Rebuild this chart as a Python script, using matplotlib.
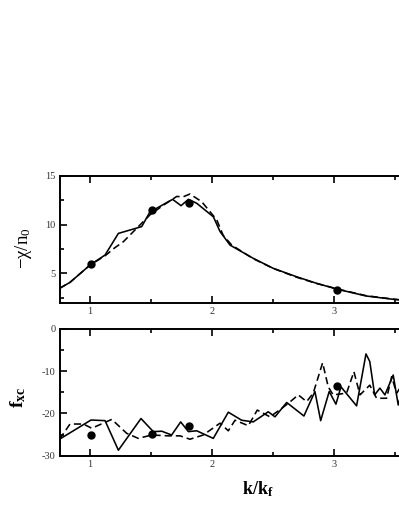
import matplotlib
matplotlib.use('Agg')
import matplotlib.pyplot as plt
from matplotlib.ticker import MultipleLocator, FixedLocator

plt.rcParams['font.family'] = 'Liberation Serif'
plt.rcParams['mathtext.fontset'] = 'custom'
plt.rcParams['mathtext.rm'] = 'Liberation Serif'
plt.rcParams['mathtext.it'] = 'Liberation Serif:italic'
plt.rcParams['mathtext.bf'] = 'Liberation Serif:bold'
plt.rcParams['axes.unicode_minus'] = False

# upper panel: -chi/n0
chi_k_solid = [0.75, 0.836, 1.0, 1.123, 1.232, 1.423, 1.49, 1.676, 1.745, 1.805, 1.873,
               2.01, 2.064, 2.146, 2.336, 2.5, 2.69, 2.855, 3.02, 3.26, 3.48, 3.6]
chi_solid = [3.45, 4.07, 5.85, 6.88, 9.1, 9.8, 11.3, 12.6, 11.95, 12.6, 12.2,
             10.8, 9.3, 7.9, 6.54, 5.51, 4.65, 3.97, 3.38, 2.67, 2.33, 2.2]
chi_k_dash = [0.75, 0.836, 1.0, 1.123, 1.2, 1.273, 1.368, 1.49, 1.6, 1.71, 1.76, 1.818,
              1.914, 2.037, 2.09, 2.16, 2.336, 2.5, 2.69, 2.855, 2.95, 3.02, 3.26, 3.48, 3.6]
chi_dash = [3.45, 4.07, 5.85, 6.8, 7.6, 8.25, 9.45, 11.0, 12.0, 12.9, 12.85, 13.15,
            12.36, 10.5, 8.9, 7.9, 6.5, 5.5, 4.6, 3.95, 3.65, 3.4, 2.7, 2.35, 2.2]

# lower panel: f_xc
fxc_k_solid = [0.75, 1.008, 1.123, 1.232, 1.417, 1.518, 1.587, 1.668, 1.742, 1.805, 1.873,
               2.009, 2.132, 2.241, 2.336, 2.459, 2.514, 2.61, 2.751, 2.841, 2.888, 2.958,
               3.013, 3.054, 3.182, 3.259, 3.29, 3.33, 3.373, 3.414, 3.482, 3.523, 3.56]
fxc_solid = [-26.1, -21.55, -21.7, -28.7, -21.2, -24.3, -24.2, -25.1, -22.0, -24.3, -24.1,
             -25.9, -19.7, -21.6, -22.0, -19.6, -20.8, -17.4, -20.6, -14.8, -21.7, -14.8,
             -17.8, -13.7, -18.2, -5.9, -7.7, -15.6, -14.0, -15.6, -10.9, -18.0, -14.0]
fxc_k_dash = [0.75, 0.836, 0.945, 1.014, 1.178, 1.30, 1.395, 1.505, 1.641, 1.737, 1.818,
              1.927, 2.064, 2.132, 2.187, 2.296, 2.369, 2.473, 2.569, 2.623, 2.705, 2.773,
              2.827, 2.904, 2.95, 2.99, 3.1, 3.16, 3.21, 3.29, 3.346, 3.428, 3.469, 3.51, 3.56]
fxc_dash = [-26.1, -22.5, -22.5, -23.5, -21.4, -24.7, -25.9, -25.1, -25.3, -25.3, -26.1,
            -25.1, -22.3, -24.1, -21.6, -22.9, -19.2, -20.8, -18.8, -17.6, -15.6, -17.2,
            -15.2, -8.0, -13.7, -15.6, -15.2, -10.1, -15.6, -13.3, -16.4, -16.4, -11.3, -15.2, -13.0]

# reference points
dot_k = [1.01, 1.51, 1.81, 3.02]
dot_chi = [6.0, 11.47, 12.2, 3.28]
dot_fxc = [-25.1, -24.9, -23.0, -13.5]

k_ticks = [1, 2, 3]

fig = plt.figure(figsize=(3.99, 5.16), dpi=100)
W, H = 399.0, 516.0
left = 59.5 / W
width = 397.0 / W
ax1 = fig.add_axes([left, (H - 302.5) / H, width, 126.5 / H])
ax2 = fig.add_axes([left, (H - 455.7) / H, width, 126.7 / H])

lw = 1.15
dash = (4.5, 2.5)

ax1.plot(chi_k_solid, chi_solid, color='black', lw=lw)
ax1.plot(chi_k_dash, chi_dash, color='black', lw=lw, dashes=dash)
ax1.plot(dot_k, dot_chi, 'o', color='black', ms=5)
ax1.set_ylim(2, 15)
ax1.yaxis.set_major_locator(MultipleLocator(5))
ax1.yaxis.set_minor_locator(MultipleLocator(2.5))

ax2.plot(fxc_k_solid, fxc_solid, color='black', lw=lw)
ax2.plot(fxc_k_dash, fxc_dash, color='black', lw=lw, dashes=dash)
ax2.plot(dot_k, dot_fxc, 'o', color='black', ms=5)
ax2.set_ylim(-30, 0)
ax2.yaxis.set_major_locator(MultipleLocator(10))
ax2.yaxis.set_minor_locator(MultipleLocator(5))

for ax in (ax1, ax2):
    ax.set_xlim(0.75, 4.0)
    ax.xaxis.set_major_locator(FixedLocator(k_ticks))
    ax.xaxis.set_minor_locator(MultipleLocator(0.5))
    ax.tick_params(which='both', direction='in', top=True, right=True,
                   labelsize=7.5, labelcolor='#333333', width=1.2)
    ax.tick_params(which='major', length=5, pad=3)
    ax.tick_params(which='minor', length=2.8)
    for s in ax.spines.values():
        s.set_linewidth(1.4)

ax1.set_ylabel(r'$\mathrm{-\chi/n_0}$', fontsize=13.5)
ax1.yaxis.set_label_coords(-0.065, 0.43)
ax2.set_ylabel(r'$\mathbf{f_{xc}}$', fontsize=14)
ax2.yaxis.set_label_coords(-0.08, 0.46)
ax2.set_xlabel(r'$\mathbf{k/k_f}$', fontsize=13)
ax2.xaxis.set_label_coords(0.5, -0.19)

fig.savefig('out.png', dpi=100)
